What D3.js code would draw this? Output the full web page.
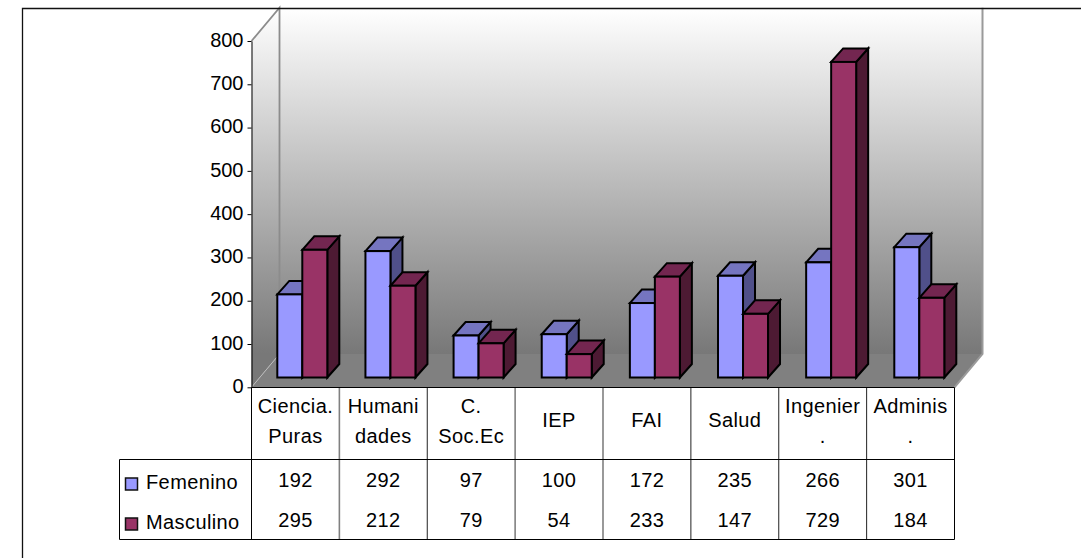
<!DOCTYPE html>
<html><head><meta charset="utf-8">
<script src="https://d3js.org/d3.v7.min.js"></script>
<style>html,body{margin:0;padding:0;background:#fff}svg{display:block}text{font-family:"Liberation Sans",Arial,sans-serif;font-size:20px;fill:#000}</style>
</head><body><svg id="c" width="1081" height="558"></svg>
<script>
const categoryLines = [["Ciencia.","Puras"],["Humani","dades"],["C.","Soc.Ec"],["IEP"],["FAI"],["Salud"],["Ingenier","."],["Adminis","."]];
const femenino = [192,292,97,100,172,235,266,301];
const masculino = [295,212,79,54,233,147,729,184];
const seriesNames = ["Femenino","Masculino"];
const yTicks = [0,100,200,300,400,500,600,700,800];

const svg = d3.select("#c");
const defs = svg.append("defs");
const grad = defs.append("linearGradient").attr("id","wall").attr("gradientUnits","userSpaceOnUse")
  .attr("x1",0).attr("x2",0).attr("y1",8).attr("y2",353);
grad.append("stop").attr("offset",0).attr("stop-color","#ffffff");
grad.append("stop").attr("offset",1).attr("stop-color","#787878");

const dx = 28, dy = -33.3;
const x = d3.scaleBand().domain(d3.range(categoryLines.length)).range([251.5,954.5]);
const y = d3.scaleLinear().domain([0,800]).range([387.3,41]);
const barLeft = d3.scaleLinear().domain([0,categoryLines.length-1]).range([277.3,894.3]);
const x0 = x(0), x1 = 954.5, y0 = y(0), yT = y(800);

// walls and floor
svg.append("path").attr("d",`M${x0+dx},${yT+dy}H${x1+dx}V${y0+dy}H${x0+dx}Z`).attr("fill","url(#wall)");
svg.append("path").attr("d",`M${x0},${yT}L${x0+dx},${yT+dy}V${y0+dy}L${x0},${y0}Z`).attr("fill","url(#wall)");
svg.append("path").attr("d",`M${x0},${y0}L${x0+dx},${y0+dy}H${x1+dx}L${x1},${y0}Z`).attr("fill","#808080");
svg.append("path").attr("d",`M${x0},${yT}L${x0+dx},${yT+dy}V${y0+dy}`).attr("fill","none").attr("stroke","#8c8c8c").attr("stroke-width",1.8);
svg.append("path").attr("d",`M${x1+dx},${yT+dy}V${y0+dy}L${x1},${y0}`).attr("fill","none").attr("stroke","#9a9a9a").attr("stroke-width",2);
svg.append("line").attr("x1",x0).attr("y1",y0).attr("x2",x0+dx).attr("y2",y0+dy).attr("stroke","#c4c4c4").attr("stroke-width",.8);

// frame
svg.append("path").attr("d",`M22.5,558V8.5H1081`).attr("fill","none").attr("stroke","#111").attr("stroke-width",1.3);

// bars
const barW = 25, bdx = 12, bdy = -13.5, base = y0 - 9.8;
const colors = [{f:"#9999ff",t:"#7575c0",s:"#50508a"},{f:"#993366",t:"#732650",s:"#4d1a33"}];
const scaleH = v => y0 - y(v);
const groups = svg.append("g").attr("stroke","#000").attr("stroke-width",2).attr("stroke-linejoin","miter");
function bar(g,xl,v,c){
  const top = base - scaleH(v), w = barW;
  g.append("path").attr("d",`M${xl+w},${base}V${top}L${xl+w+bdx},${top+bdy}V${base+bdy}Z`).attr("fill",c.s);
  g.append("path").attr("d",`M${xl},${top}L${xl+bdx},${top+bdy}H${xl+w+bdx}L${xl+w},${top}Z`).attr("fill",c.t);
  g.append("rect").attr("x",xl).attr("y",top).attr("width",w).attr("height",scaleH(v)).attr("fill",c.f);
}
femenino.forEach((v,i)=>{
  const xl = barLeft(i);
  bar(groups,xl,v,colors[0]);
  bar(groups,xl+barW,masculino[i],colors[1]);
});

// y axis
const axis = d3.axisLeft(y).tickValues(yTicks).tickSizeInner(4).tickSizeOuter(0).tickPadding(4).tickFormat(d3.format("d"));
const ag = svg.append("g").attr("transform",`translate(${x0},0)`).call(axis);
ag.selectAll("text").style("font-size","20px").style("font-family",'"Liberation Sans",Arial,sans-serif').attr("dy","0.26em");
ag.selectAll("line,path").attr("stroke","#000");

// table
const r1 = 459.5, r2 = 539.5, leftX = 119.5;
const dividerGray = [false,true,false,true,true,false,false,false];
const t = svg.append("g").attr("fill","none");
d3.range(categoryLines.length).forEach(i=>{
  if(i===0) return;
  t.append("line").attr("x1",x(i)).attr("x2",x(i)).attr("y1",y0).attr("y2",r2)
    .attr("stroke",dividerGray[i]?"#808080":"#222").attr("stroke-width",dividerGray[i]?1.6:1);
});
t.append("path").attr("stroke","#000").attr("d",`M${x0},${y0+0.2}H${x1}V${r2}H${leftX}V${r1}H${x1}M${x0},${y0}V${r2}`);

const label = (px,py,s,anchor) => svg.append("text").attr("x",px).attr("y",py).attr("text-anchor",anchor).attr("letter-spacing","0.4").text(s);
categoryLines.forEach((ls,i)=>{
  const cx = x(i)+x.bandwidth()/2;
  const ys = ls.length===2 ? [413,443] : [427];
  ls.forEach((s,j)=>label(cx,ys[j],s,"middle"));
});
[femenino,masculino].forEach((arr,r)=>{
  arr.forEach((v,i)=>label(x(i)+x.bandwidth()/2,[487,527][r],v,"middle"));
  svg.append("rect").attr("x",125.5).attr("y",[478,518][r]).attr("width",12).attr("height",12).attr("fill",colors[r].f).attr("stroke","#111").attr("stroke-width",1.5);
  label(146,[489,529][r],seriesNames[r],"start");
});
</script></body></html>
